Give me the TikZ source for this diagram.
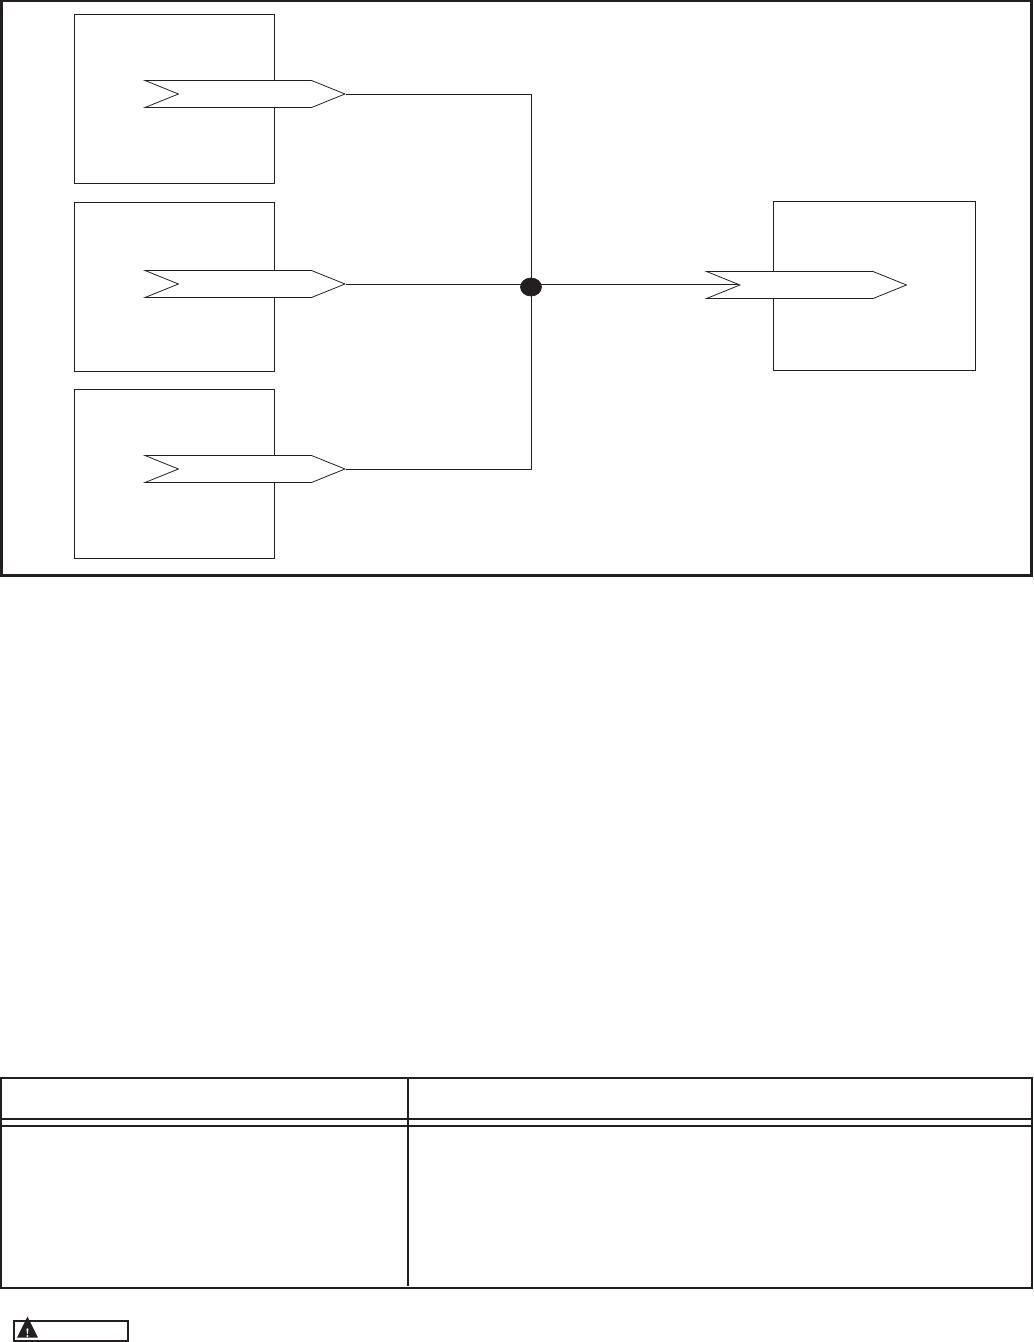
\documentclass[tikz,border=0pt]{standalone}
\definecolor{mInk}{HTML}{231F20}
\usepackage{tikz}
\usetikzlibrary{positioning,calc,shapes.geometric,shapes.symbols}
\tikzset{
  srcbox/.style={draw=mInk, line width=0.5pt, minimum width=4cm, minimum height=3.38cm, inner sep=0pt},
  tagbox/.style={draw=mInk, line width=0.45pt, fill=white, shape=signal, signal from=west, signal to=east, signal pointer angle=44, minimum width=4cm, minimum height=0.54cm, inner sep=0pt},
  wire/.style={draw=mInk, line width=0.5pt},
  heavy/.style={draw=mInk, line width=1.15pt}
}
\begin{document}
\begin{tikzpicture}[x=0.02cm, y=-0.02cm]
\useasboundingbox (0,0) rectangle (1034,1342);
\draw[heavy, line width=1.6pt] (1.5,1) rectangle (1031.5,575.5);
\node[srcbox] (srcA) at (174,98.5) {};
\node[srcbox] (srcB) at (174,287) {};
\node[srcbox] (srcC) at (174,473.5) {};
\node[srcbox, minimum width=4.04cm] (sink) at (874,285.5) {};
\node[tagbox] (tagA) at (245,94) {};
\node[tagbox] (tagB) at (245,284) {};
\node[tagbox] (tagC) at (245,469) {};
\node[tagbox] (tagOut) at (806.5,285) {};
\node[draw=mInk, fill=mInk, ellipse, minimum width=0.42cm, minimum height=0.36cm, inner sep=0pt] (joint) at (531,287) {};
\draw[wire] (tagA.east) -| (joint);
\draw[wire] (tagC.east) -| (joint);
\draw[wire] (tagB.east) -- (tagB.east -| joint.center);
\draw[wire] (tagB.east -| joint.center) -- (tagB.east -| tagOut.west);
\draw[heavy] (1,1078) rectangle (1032,1288);
\draw[heavy] (1,1119) -- (1032,1119);
\draw[heavy] (1,1126) -- (1032,1126);
\draw[heavy] (408,1078) -- (408,1286);
\node[draw=mInk, line width=1.2pt, minimum width=2.28cm, minimum height=0.4cm, inner sep=0pt] (caution) at (71,1331) {};
\node[fill=mInk, isosceles triangle, isosceles triangle apex angle=55, isosceles triangle stretches, shape border rotate=90, minimum width=0.42cm, minimum height=0.42cm, inner sep=0pt] (warn) at (27.5,1331) {};
\node[text=white, font=\scriptsize\bfseries, inner sep=0pt] (warnmark) at (27.5,1333) {!};
\end{tikzpicture}
\end{document}
